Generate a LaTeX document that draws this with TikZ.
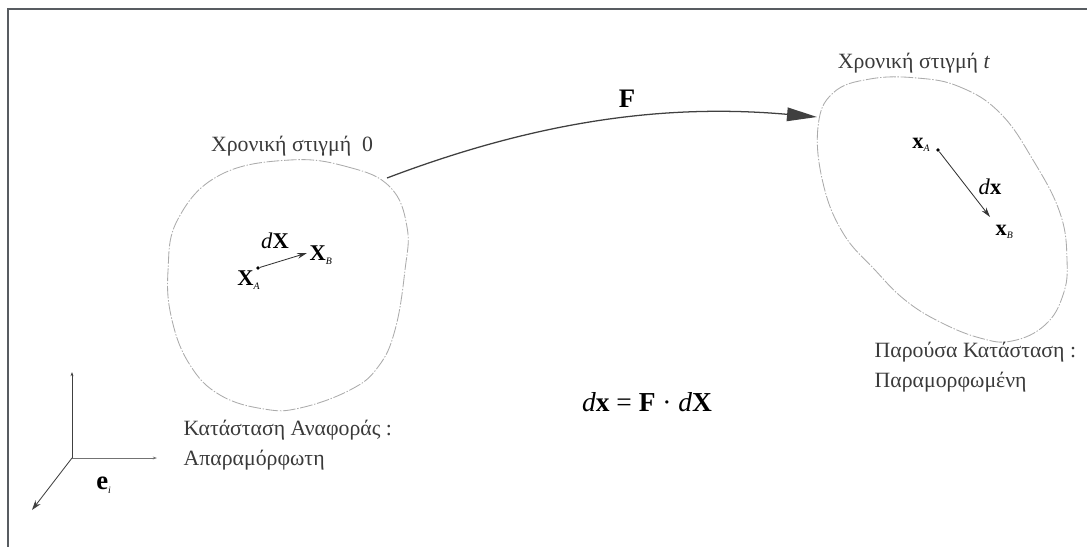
\documentclass[tikz,border=0pt]{standalone}
\usepackage{fontspec}
\setmainfont{Liberation Serif}
\usepackage{tikz}
\usetikzlibrary{arrows.meta, positioning}
\usepackage{xcolor}
\definecolor{framegray}{HTML}{585C61}
\definecolor{blobgray}{HTML}{ABABAB}
\definecolor{inkgray}{HTML}{3A3A3A}
\newcommand{\sub}[1]{\textsubscript{\fontsize{7}{8}\selectfont\textit{#1}}}

\begin{document}
\begin{tikzpicture}[
  lbl/.style={font=\fontsize{15.5}{17}\selectfont, text=inkgray, inner sep=1pt},
  vec/.style={font=\fontsize{16}{18}\selectfont, text=black, inner sep=1pt},
  body/.style={draw=blobgray, line width=0.6pt,
    dash pattern=on 9pt off 1.2pt on 1pt off 1.2pt},
  pt/.style={circle, fill=black, inner sep=0pt, minimum size=2.6pt},
  map/.style={-{Triangle[length=0.75cm, width=0.34cm]}, line width=0.9pt, draw=black!75},
  dvec/.style={-{Stealth[length=7pt, width=4pt]}, line width=0.6pt, draw=black!80},
  axis/.style={line width=0.6pt, draw=black!75}
]
  \useasboundingbox (0,0) rectangle (27.175,13.675);

  % Frame
  \draw[framegray, line width=1.3pt] (27.175,13.45) -- (0.2,13.45) -- (0.2,0);

  % Reference configuration
  \draw[body] plot[smooth cycle, tension=0.7] coordinates {
    (7.25,9.675) (8.7,9.5) (9.75,9.0) (10.175,8.0) (10.125,6.925)
    (9.875,5.425) (9.45,4.5) (8.75,3.925) (7.5,3.475) (6.6,3.45)
    (5.5,3.8) (4.75,4.55) (4.3,5.675) (4.2,6.9) (4.45,8.2) (5.5,9.3)};
  \node[lbl] (t0) at (7.3,10.025) {Χρονική στιγμή \ 0};
  \node[lbl, anchor=west] (ref1) at (4.55,2.925) {Κατάσταση Αναφοράς :};
  \node[lbl, anchor=west] (ref2) at (4.55,2.175) {Απαραμόρφωτη};

  \node[pt] (XA) at (6.45,6.975) {};
  \coordinate (XB) at (7.675,7.35);
  \draw[dvec] (XA) -- (XB);
  \node[vec, anchor=north east] (XAl) at (6.55,6.95) {\textbf{X}\sub{A}};
  \node[vec, anchor=west] (XBl) at (7.7,7.3) {\textbf{X}\sub{B}};
  \node[vec] (dXl) at (6.875,7.65) {\textit{d}\textbf{X}};

  % Current configuration
  \draw[body] plot[smooth cycle, tension=0.7] coordinates {
    (22.925,11.725) (24.0,11.5) (25.0,10.85) (25.825,9.675) (26.5,8.35)
    (26.675,7.175) (26.575,6.3) (26.125,5.55) (25.3,5.15) (24.5,5.225)
    (23.5,5.625) (22.625,6.175) (21.875,6.925) (21.075,7.85) (20.575,9.1)
    (20.45,10.5) (20.825,11.35) (21.75,11.7)};
  \node[lbl] (tt) at (22.85,12.1) {Χρονική στιγμή \textit{t}};
  \node[lbl, anchor=west] (cur1) at (21.825,4.875) {Παρούσα Κατάσταση :};
  \node[lbl, anchor=west] (cur2) at (21.825,4.125) {Παραμορφωμένη};

  \node[pt] (xA) at (23.45,9.925) {};
  \coordinate (xB) at (24.75,8.25);
  \draw[dvec] (xA) -- (xB);
  \node[vec, anchor=east] (xAl) at (23.3,10.05) {\textbf{x}\sub{A}};
  \node[vec, anchor=north west] (xBl) at (24.85,8.1) {\textbf{x}\sub{B}};
  \node[vec] (dxl) at (24.75,9.0) {\textit{d}\textbf{x}};

  % Deformation gradient
  \coordinate (Fs) at (9.675,9.225);
  \coordinate (Fe) at (20.425,10.75);
  \draw[map] (Fs) .. controls (13.3,10.6) and (16.5,11.1) .. (Fe);
  \node[font=\fontsize{19}{21}\selectfont\bfseries] (Fl) at (15.675,11.2) {F};

  \node[font=\fontsize{19.5}{21}\selectfont] (rel) at (16.175,3.625)
    {\textit{d}\textbf{x} = \textbf{F} · \textit{d}\textbf{X}};

  % Basis
  \coordinate (O) at (1.8,2.225);
  \coordinate (e1) at (1.8,4.375);
  \coordinate (e2) at (3.925,2.225);
  \coordinate (e3) at (0.8,0.925);
  \draw[axis, -{Stealth[length=3pt, width=2pt]}] (O) -- (e1);
  \draw[axis, draw=black!55, -{Stealth[length=3pt, width=2pt]}] (O) -- (e2);
  \draw[axis, -{Stealth[length=7pt, width=4.5pt]}] (O) -- (e3);
  \node[vec, font=\fontsize{19}{21}\selectfont] (el) at (2.6,1.55) {\textbf{e}\sub{i}};
\end{tikzpicture}
\end{document}
